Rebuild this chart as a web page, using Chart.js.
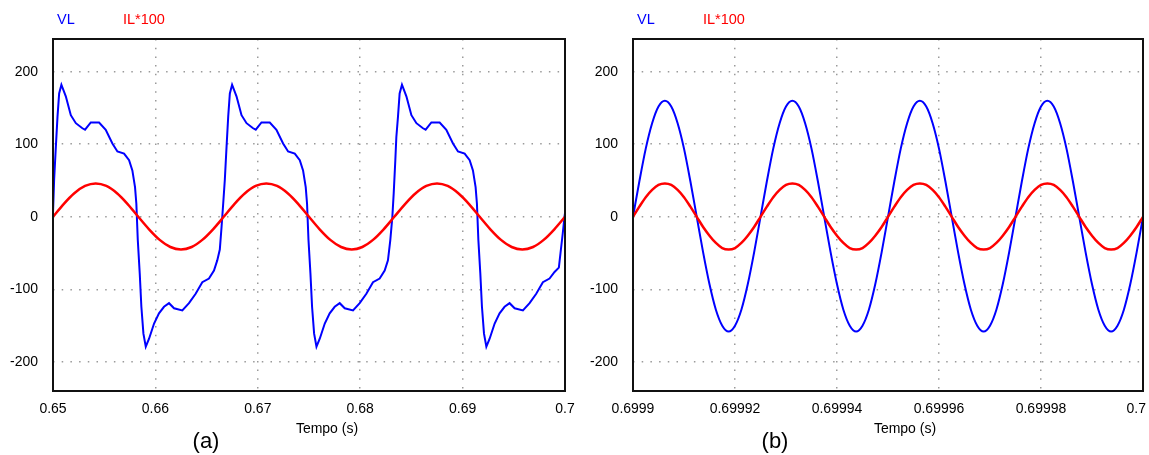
<!DOCTYPE html>
<html><head><meta charset="utf-8">
<script src="https://cdn.jsdelivr.net/npm/chart.js@4.4.1/dist/chart.umd.min.js"></script>
<style>
html,body{margin:0;padding:0;background:#fff;overflow:hidden;width:1149px;height:455px;}
#wa{position:absolute;left:0;top:0;width:585px;height:455px;}
#wb{position:absolute;left:575px;top:0;width:590px;height:455px;}
</style></head><body>
<div id="wa"><canvas id="ca"></canvas></div>
<div id="wb"><canvas id="cb"></canvas></div>
<script>
// ---------- data ----------
const seriesNames = ['VL', 'IL*100'];
const xTitle = 'Tempo (s)';
const panelLabels = ['(a)', '(b)'];
const yTickVals = [-200, -100, 0, 100, 200];
const yTickLabels = ['-200', '-100', '0', '100', '200'];
// panel (a): time in ms
const xTickValsA = [650, 660, 670, 680, 690, 700];
const xTickLabelsA = ['0.65', '0.66', '0.67', '0.68', '0.69', '0.7'];
// panel (b): time in microseconds after 0.6999 s
const xTickValsB = [0, 20, 40, 60, 80, 100];
const xTickLabelsB = ['0.6999', '0.69992', '0.69994', '0.69996', '0.69998', '0.7'];

const vlTimeA = [650.00,650.11,650.28,650.44,650.60,650.82,651.25,651.74,652.23,652.87,653.13,653.69,654.50,655.15,655.80,656.29,656.94,657.43,657.75,658.01,658.14,658.28,658.47,658.63,658.83,659.06,659.38,659.87,660.35,660.84,661.33,661.82,662.63,663.28,663.93,664.58,665.23,665.72,666.04,666.29,666.46,666.62,
666.78,666.95,667.11,667.27,667.49,667.92,668.41,668.90,669.54,669.80,670.36,671.17,671.82,672.47,672.96,673.61,674.10,674.42,674.68,674.81,674.95,675.14,675.30,675.50,675.73,676.05,676.54,677.02,677.51,678.00,678.49,679.30,679.95,680.60,681.25,681.90,682.39,682.71,682.94,683.14,
683.27,683.43,683.53,683.69,683.85,684.08,684.51,685.00,685.49,686.13,686.39,686.95,687.76,688.41,689.06,689.55,690.20,690.69,691.01,691.27,691.40,691.54,691.73,691.89,692.09,692.32,692.64,693.13,693.61,694.10,694.59,695.08,695.89,696.54,697.19,697.84,698.49,698.98,699.40,699.56,699.78,699.95,700.00];
const vlA = [5,51,97,138,170,182,166,140,129,122,120,130,130,120,101,90,87,78,64,41,18,-32,-78,-124,-161,-179,-168,-147,-133,-124,-119,-126,-129,-119,-106,-90,-85,-74,-60,-45,-14,18,
51,97,138,170,182,166,140,129,122,120,130,130,120,101,90,87,78,64,41,18,-32,-78,-124,-161,-179,-168,-147,-133,-124,-119,-126,-129,-119,-106,-90,-85,-74,-60,-32,0,
32,78,110,138,170,182,166,140,129,122,120,130,130,120,101,90,87,78,64,41,18,-32,-78,-124,-161,-179,-168,-147,-133,-124,-119,-126,-129,-119,-106,-90,-85,-76,-70,-50,-23,0,5];

const ilTimeA = [650.00,651.04,652.08,653.13,654.17,655.21,656.25,657.29,658.33,659.38,660.42,661.46,662.50,663.54,664.58,665.63,
666.67,667.71,668.75,669.79,670.83,671.88,672.92,673.96,675.00,676.04,677.08,678.13,679.17,680.21,681.25,682.29,
683.33,684.38,685.42,686.46,687.50,688.54,689.58,690.63,691.67,692.71,693.75,694.79,695.83,696.88,697.92,698.96,700.00];
const ilA = [0,17.6,32.5,42.5,46,42.5,32.5,17.6,0,-17.2,-31.8,-41.6,-45,-41.6,-31.8,-17.2,
0,17.6,32.5,42.5,46,42.5,32.5,17.6,0,-17.2,-31.8,-41.6,-45,-41.6,-31.8,-17.2,
0,17.6,32.5,42.5,46,42.5,32.5,17.6,0,-17.2,-31.8,-41.6,-45,-41.6,-31.8,-17.2,0];

const timeB = [0,1.25,2.5,3.75,5,6.25,7.5,8.75,10,11.25,12.5,13.75,15,16.25,17.5,18.75,20,21.25,22.5,23.75,
25,26.25,27.5,28.75,30,31.25,32.5,33.75,35,36.25,37.5,38.75,40,41.25,42.5,43.75,45,46.25,47.5,48.75,
50,51.25,52.5,53.75,55,56.25,57.5,58.75,60,61.25,62.5,63.75,65,66.25,67.5,68.75,70,71.25,72.5,73.75,
75,76.25,77.5,78.75,80,81.25,82.5,83.75,85,86.25,87.5,88.75,90,91.25,92.5,93.75,95,96.25,97.5,98.75,100];
const vlB = [0,49,94,129,152,160,152,129,94,49,0,-49,-93,-128,-150,-158,-150,-128,-93,-49,
0,49,94,129,152,160,152,129,94,49,0,-49,-93,-128,-150,-158,-150,-128,-93,-49,
0,49,94,129,152,160,152,129,94,49,0,-49,-93,-128,-150,-158,-150,-128,-93,-49,
0,49,94,129,152,160,152,129,94,49,0,-49,-93,-128,-150,-158,-150,-128,-93,-49,0];
const ilB = [0,14,27,37,44,46,44,37,27,14,0,-14,-26,-36,-43,-45,-43,-36,-26,-14,
0,14,27,37,44,46,44,37,27,14,0,-14,-26,-36,-43,-45,-43,-36,-26,-14,
0,14,27,37,44,46,44,37,27,14,0,-14,-26,-36,-43,-45,-43,-36,-26,-14,
0,14,27,37,44,46,44,37,27,14,0,-14,-26,-36,-43,-45,-43,-36,-26,-14,0];

// ---------- drawing ----------
const FONT = '"Liberation Sans", Arial, sans-serif';
const BLUE = '#0000ff', RED = '#ff0000';
const GRID = '#9a9a9a';
const TICK_PAD = 10;
const TICK_SIZE = 14;
const zip = (xs, ys) => xs.map((x, i) => ({x: x, y: ys[i]}));

const framePlugin = {
  id: 'frame',
  afterDatasetsDraw(chart) {
    const a = chart.chartArea, ctx = chart.ctx;
    ctx.save();
    ctx.strokeStyle = '#111';
    ctx.lineWidth = 2;
    ctx.strokeRect(a.left, a.top, a.right - a.left, a.bottom - a.top);
    ctx.restore();
  }
};

// clampRight: largest x (canvas px) the last x tick label may reach; null = no clamping
function textPlugin(panel, tempoOff, labelOff, xVals, xLabels, clampRight) {
  return {
    id: 'texts' + panel,
    afterDraw(chart) {
      const a = chart.chartArea, ctx = chart.ctx;
      const cx = (a.left + a.right) / 2;
      ctx.save();
      ctx.textBaseline = 'middle';
      ctx.textAlign = 'left';
      ctx.font = '14.5px ' + FONT;
      ctx.fillStyle = BLUE;
      ctx.fillText(seriesNames[0], a.left + 4, 20);
      ctx.fillStyle = RED;
      ctx.fillText(seriesNames[1], a.left + 70, 20);
      ctx.fillStyle = '#000';
      ctx.textAlign = 'center';
      ctx.font = '14px ' + FONT;
      ctx.fillText(xTitle, cx + tempoOff, 429);
      ctx.font = '22px ' + FONT;
      ctx.fillText(panelLabels[panel], cx + labelOff, 442);
      if (clampRight !== null) {
        // last x tick label, kept inside the picture like the original
        const sx = chart.scales.x;
        const last = xVals.length - 1;
        const txt = xLabels[last];
        ctx.font = TICK_SIZE + 'px ' + FONT;
        const w = ctx.measureText(txt).width;
        const px = Math.min(sx.getPixelForValue(xVals[last]), clampRight - w / 2);
        ctx.textBaseline = 'middle';
        ctx.textAlign = 'center';
        ctx.fillText(txt, px, a.bottom + TICK_PAD + TICK_SIZE * 1.2 / 2);
      }
      ctx.restore();
    }
  };
}

function makeChart(id, panel, vlData, ilData, xMin, xMax, xVals, xLabels, yW, padRight, tempoOff, labelOff, clampRight) {
  const hideLast = clampRight !== null;
  return new Chart(document.getElementById(id), {
    type: 'line',
    data: {
      datasets: [
        {label: seriesNames[1], data: ilData, borderColor: RED, borderWidth: 2.5, pointRadius: 0,
         fill: false, cubicInterpolationMode: 'monotone'},
        {label: seriesNames[0], data: vlData, borderColor: BLUE, borderWidth: 2, pointRadius: 0,
         fill: false, tension: 0, cubicInterpolationMode: panel === 1 ? 'monotone' : 'default'}
      ]
    },
    options: {
      responsive: true, maintainAspectRatio: false, animation: false, devicePixelRatio: 1,
      layout: {padding: {top: 39, right: padRight, bottom: 0, left: 0}},
      plugins: {legend: {display: false}, tooltip: {enabled: false}},
      scales: {
        x: {
          type: 'linear', min: xMin, max: xMax,
          afterBuildTicks: s => { s.ticks = xVals.map(v => ({value: v})); },
          afterFit: s => { s.height = 64; },
          ticks: {font: {family: FONT, size: TICK_SIZE}, color: '#000', padding: TICK_PAD, maxRotation: 0,
                  autoSkip: false,
                  callback: v => {
                    const i = xVals.indexOf(v);
                    return (hideLast && i === xVals.length - 1) ? '' : xLabels[i];
                  }},
          grid: {color: GRID, lineWidth: 1.5, drawTicks: false},
          border: {display: false, dash: [1.5, 7.2]}
        },
        y: {
          type: 'linear', min: -240, max: 245,
          afterBuildTicks: s => { s.ticks = yTickVals.map(v => ({value: v})); },
          afterFit: s => { s.width = yW; },
          ticks: {font: {family: FONT, size: TICK_SIZE}, color: '#000', padding: 15,
                  callback: v => yTickLabels[yTickVals.indexOf(v)]},
          grid: {color: GRID, lineWidth: 1.5, drawTicks: false},
          border: {display: false, dash: [1.5, 7.2]}
        }
      }
    },
    plugins: [framePlugin, textPlugin(panel, tempoOff, labelOff, xVals, xLabels, clampRight)]
  });
}

makeChart('ca', 0, zip(vlTimeA, vlA), zip(ilTimeA, ilA), 650, 700, xTickValsA, xTickLabelsA, 53, 20, 18, -103, null);
// right canvas starts at x=575 of the page; the page ends at 1149 -> canvas x 574
makeChart('cb', 1, zip(timeB, vlB), zip(timeB, ilB), 0, 100, xTickValsB, xTickLabelsB, 58, 22, 17, -113, 571);
</script>
</body></html>
